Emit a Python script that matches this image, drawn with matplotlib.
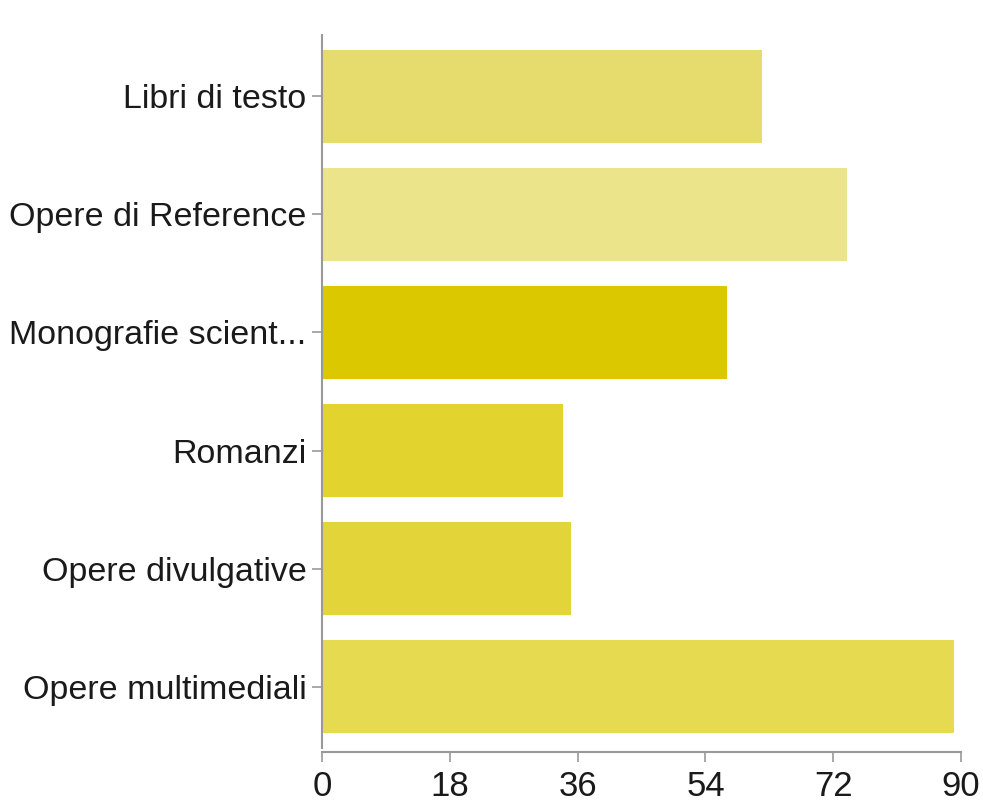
import matplotlib.pyplot as plt

categories = ['Libri di testo', 'Opere di Reference', 'Monografie scient...',
              'Romanzi', 'Opere divulgative', 'Opere multimediali']
values = [62, 74, 57, 34, 35, 89]
colors = ['#e6dc6e', '#ebe48a', '#dcc800', '#e2d32e', '#e3d43a', '#e6da50']
xticks = [0, 18, 36, 54, 72, 90]

plt.rcParams['font.family'] = ['Liberation Sans', 'DejaVu Sans']

fig = plt.figure(figsize=(9.83, 8.11), dpi=100)
ax = fig.add_axes([322 / 983, 63 / 811, 639 / 983, 713 / 811])

ypos = list(range(len(categories)))
ax.barh(ypos, values, height=0.79, color=colors)

ax.set_ylim(5.52, -0.52)
ax.set_xlim(0, 90)
ax.set_yticks(ypos)
ax.set_yticklabels(categories)
ax.set_xticks(xticks)
ax.set_xticklabels([str(t) for t in xticks])

for s in ['top', 'right']:
    ax.spines[s].set_visible(False)
for s in ['left', 'bottom']:
    ax.spines[s].set_color('#999999')
    ax.spines[s].set_linewidth(1.5)
ax.spines['bottom'].set_position(('outward', 3))
ax.tick_params(axis='both', colors='#999999', length=7, width=1.2, labelcolor='#1a1a1a')
ax.tick_params(axis='y', pad=4, labelsize=24.5)
ax.tick_params(axis='x', pad=6, labelsize=25)

fig.savefig('out.png', dpi=100)
